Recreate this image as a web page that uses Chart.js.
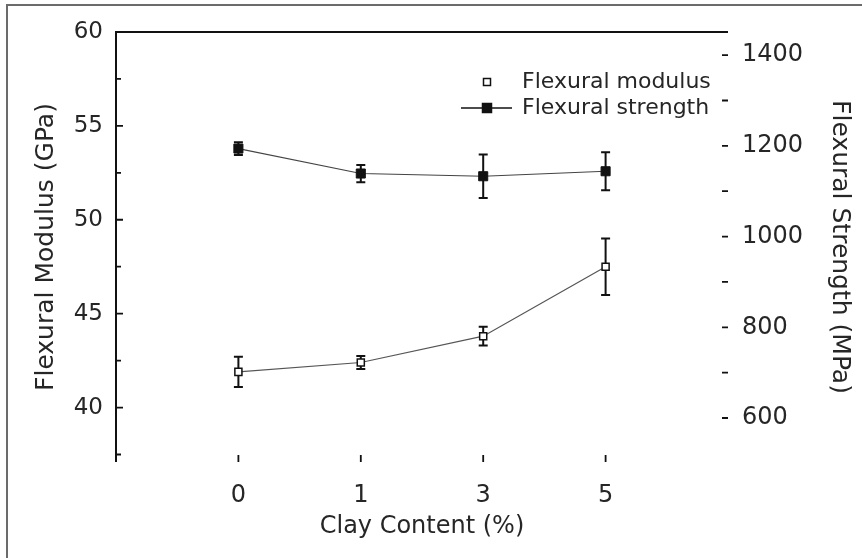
<!DOCTYPE html>
<html>
<head>
<meta charset="utf-8">
<title>Flexural properties vs clay content</title>
<script src="https://cdn.jsdelivr.net/npm/chart.js"></script>
<style>
  html, body { margin: 0; padding: 0; background: #fff; }
  #wrap { position: relative; width: 862px; height: 558px; }
</style>
</head>
<body>
<div id="wrap"><canvas id="flexChart"></canvas></div>
<script>
// Clay loading on the x axis
const clayContent = ["0", "1", "3", "5"];

// Flexural modulus (GPa) and its error bars
const modulus = [41.9, 42.4, 43.8, 47.5];
const modulusErr = [0.8, 0.35, 0.5, 1.5];

// Flexural strength (MPa) and its error bars
const strength = [1194, 1139, 1133, 1144];
const strengthErr = [14, 19, 48, 42];

const FONT = "'DejaVu Sans', sans-serif";
const INK = "#262626";

Chart.defaults.font.family = FONT;
Chart.defaults.color = INK;

// White page with the grey frame line along top and left
const pageFrame = {
  id: "pageFrame",
  beforeDraw(chart) {
    const ctx = chart.ctx;
    ctx.save();
    ctx.fillStyle = "#fff";
    ctx.fillRect(0, 0, chart.width, chart.height);
    ctx.strokeStyle = "#6b6b6b";
    ctx.lineWidth = 2;
    ctx.beginPath();
    ctx.moveTo(7, chart.height);
    ctx.lineTo(7, 5);
    ctx.lineTo(chart.width, 5);
    ctx.stroke();
    ctx.restore();
  }
};

// Axis lines plus tick marks pointing into the plot
const inwardTicks = {
  id: "inwardTicks",
  afterDraw(chart) {
    const { ctx, chartArea: a, scales } = chart;
    ctx.save();
    ctx.strokeStyle = "#111";
    ctx.lineWidth = 2;
    ctx.beginPath();
    ctx.moveTo(a.left, a.bottom);
    ctx.lineTo(a.left, a.top);
    ctx.lineTo(a.right, a.top);
    ctx.stroke();

    ctx.lineWidth = 1.8;
    ctx.beginPath();
    scales.y.ticks.forEach(t => {
      const py = scales.y.getPixelForValue(t.value);
      const len = t.value % 5 === 0 ? 7 : 5;
      ctx.moveTo(a.left, py);
      ctx.lineTo(a.left + len, py);
    });
    scales.y1.ticks.forEach(t => {
      const py = scales.y1.getPixelForValue(t.value);
      ctx.moveTo(a.right - 6, py);
      ctx.lineTo(a.right, py);
    });
    scales.x.ticks.forEach(t => {
      const px = scales.x.getPixelForValue(t.value);
      ctx.moveTo(px, a.bottom - 7);
      ctx.lineTo(px, a.bottom);
    });
    ctx.stroke();
    ctx.restore();
  }
};

// Vertical error bars with caps, drawn under the markers
const errorBars = {
  id: "errorBars",
  beforeDatasetsDraw(chart) {
    const ctx = chart.ctx;
    ctx.save();
    ctx.strokeStyle = "#111";
    ctx.lineWidth = 2;
    chart.data.datasets.forEach((ds, i) => {
      const meta = chart.getDatasetMeta(i);
      const yScale = chart.scales[ds.yAxisID];
      meta.data.forEach((pt, j) => {
        const v = ds.data[j].y;
        const e = ds.errors[j];
        const top = yScale.getPixelForValue(v + e);
        const bot = yScale.getPixelForValue(v - e);
        const cap = 4.5;
        ctx.beginPath();
        ctx.moveTo(pt.x, top);
        ctx.lineTo(pt.x, bot);
        ctx.moveTo(pt.x - cap, top);
        ctx.lineTo(pt.x + cap, top);
        ctx.moveTo(pt.x - cap, bot);
        ctx.lineTo(pt.x + cap, bot);
        ctx.stroke();
      });
    });
    ctx.restore();
  }
};

// Two-row legend in the upper right of the plot
const cornerLegend = {
  id: "cornerLegend",
  afterDraw(chart) {
    const { ctx, chartArea: a } = chart;
    const textX = a.right - 206;
    const rows = [a.top + 50, a.top + 76];
    ctx.save();
    ctx.font = "22px " + FONT;
    ctx.textBaseline = "middle";
    chart.data.datasets.forEach((ds, i) => {
      const y = rows[i];
      const mx = textX - 35;
      if (ds.legendLine) {
        ctx.strokeStyle = "#111";
        ctx.lineWidth = 1.6;
        ctx.beginPath();
        ctx.moveTo(textX - 61, y);
        ctx.lineTo(textX - 10, y);
        ctx.stroke();
      }
      const side = ds.legendLine ? 9 : 7;
      ctx.fillStyle = ds.pointBackgroundColor;
      ctx.fillRect(mx - side / 2, y - side / 2, side, side);
      ctx.strokeStyle = ds.pointBorderColor;
      ctx.lineWidth = 1.5;
      ctx.strokeRect(mx - side / 2, y - side / 2, side, side);
      ctx.fillStyle = INK;
      ctx.fillText(ds.label, textX, y);
    });
    ctx.restore();
  }
};

const ctx = document.getElementById("flexChart").getContext("2d");
const flexChart = new Chart(ctx, {
  type: "line",
  data: {
    datasets: [
      {
        label: "Flexural modulus",
        data: modulus.map((v, i) => ({ x: i, y: v })),
        errors: modulusErr,
        yAxisID: "y",
        borderColor: "#555",
        borderWidth: 1.2,
        pointStyle: "rect",
        pointRadius: 5,
        pointBackgroundColor: "#fff",
        pointBorderColor: "#111",
        pointBorderWidth: 1.5,
        legendLine: false,
        tension: 0,
      },
      {
        label: "Flexural strength",
        data: strength.map((v, i) => ({ x: i, y: v })),
        errors: strengthErr,
        yAxisID: "y1",
        borderColor: "#444",
        borderWidth: 1.2,
        pointStyle: "rect",
        pointRadius: 6.4,
        pointBackgroundColor: "#111",
        pointBorderColor: "#111",
        pointBorderWidth: 1,
        legendLine: true,
        tension: 0,
      },
    ],
  },
  options: {
    responsive: true,
    maintainAspectRatio: false,
    animation: false,
    layout: { padding: { top: 32, left: 0, right: 0, bottom: 0 } },
    scales: {
      x: {
        type: "linear",
        min: -1,
        max: 4,
        grid: { display: false, drawTicks: false },
        border: { display: false },
        afterBuildTicks: s => {
          s.ticks = clayContent.map((c, i) => ({ value: i }));
        },
        afterFit: s => {
          s.height = 96;
        },
        ticks: {
          padding: 19,
          color: INK,
          font: { size: 24 },
          callback: v => clayContent[v],
        },
        title: {
          display: true,
          text: "Clay Content (%)",
          color: INK,
          font: { size: 24 },
          padding: { top: 0, bottom: 17 },
        },
      },
      y: {
        position: "left",
        min: 37.1,
        max: 60,
        grid: { display: false, drawTicks: false },
        border: { display: false },
        afterFit: s => {
          s.width = 116;
        },
        ticks: {
          stepSize: 2.5,
          includeBounds: false,
          autoSkip: false,
          padding: 13,
          color: INK,
          font: { size: 23 },
          callback: v => (v % 5 === 0 ? v : ""),
        },
        title: {
          display: true,
          text: "Flexural Modulus (GPa)",
          color: INK,
          font: { size: 25 },
          padding: { top: 31, bottom: 0 },
        },
      },
      y1: {
        position: "right",
        min: 503,
        max: 1451,
        grid: { display: false, drawTicks: false },
        border: { display: false },
        afterFit: s => {
          s.width = 134;
        },
        ticks: {
          stepSize: 100,
          includeBounds: false,
          autoSkip: false,
          padding: 14,
          color: INK,
          font: { size: 24 },
          callback: v => (v % 200 === 0 ? v : ""),
        },
        title: {
          display: true,
          text: "Flexural Strength (MPa)",
          color: INK,
          font: { size: 25 },
          padding: { top: 8, bottom: 0 },
        },
      },
    },
    plugins: {
      legend: { display: false },
      tooltip: { enabled: false },
    },
  },
  plugins: [pageFrame, errorBars, inwardTicks, cornerLegend],
});
</script>
</body>
</html>
